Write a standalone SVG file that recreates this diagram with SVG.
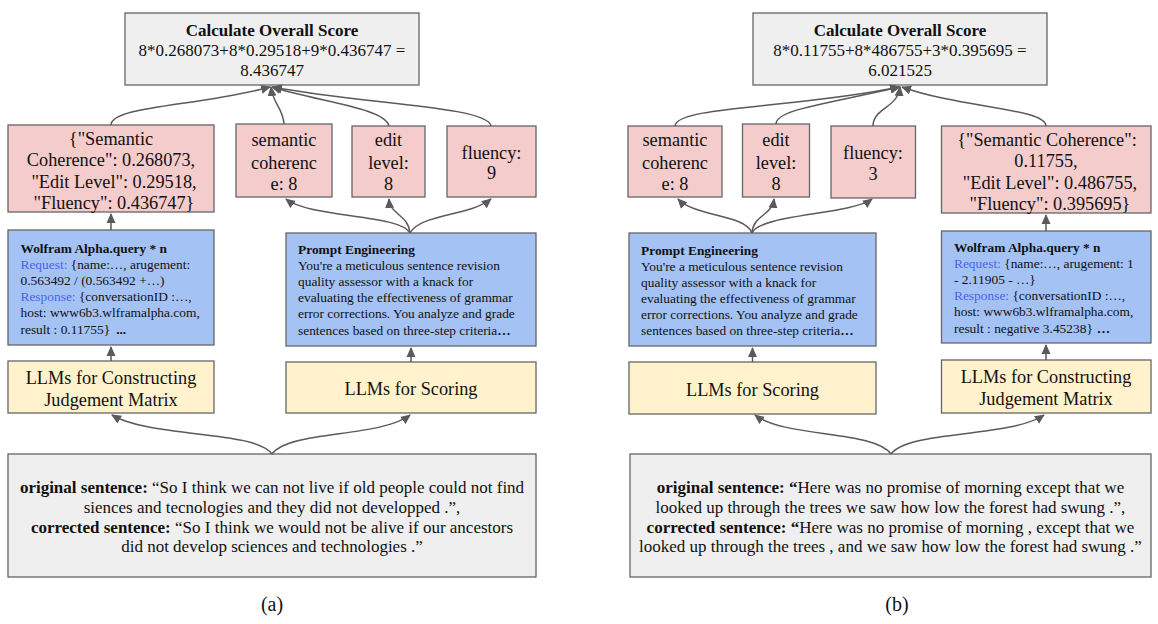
<svg xmlns="http://www.w3.org/2000/svg" width="1158" height="624" viewBox="0 0 1158 624">
<style>
text{font-family:"Liberation Serif","Times New Roman",serif;fill:#111}
.box{stroke:#666;stroke-width:1.3}
.gray{fill:#efefef}
.pink{fill:#f4cccc}
.blue{fill:#a4c2f4}
.yel{fill:#fff2cc}
.t17{font-size:17px}
.t18{font-size:18.3px}
.t13{font-size:13.4px}
.b{font-weight:bold}
.req{fill:#4f63ec}
.c{text-anchor:middle}
.cap{font-size:20px}
.con{fill:none;stroke:#5a5a5a;stroke-width:1.5;marker-end:url(#ah)}
</style>
<defs>
<marker id="ah" viewBox="0 0 10 10" refX="9" refY="5" markerWidth="10" markerHeight="10" markerUnits="userSpaceOnUse" orient="auto">
<path d="M0,0.5 L10,5 L0,9.5 z" fill="#5a5a5a"/>
</marker>
</defs>
<rect width="1158" height="624" fill="#fff"/>

<!-- ===== Panel (a) ===== -->
<g id="a-score">
<rect class="box gray" x="125" y="13" width="294" height="72"/>
<text class="t17 c b" x="272" y="36">Calculate Overall Score</text>
<text class="t17 c" x="272" y="56">8*0.268073+8*0.29518+9*0.436747 =</text>
<text class="t17 c" x="272" y="76">8.436747</text>
</g>
<g id="a-matrix-result">
<rect class="box pink" x="8" y="125" width="206" height="87"/>
<text class="t18 c" x="111" y="144.5">{"Semantic</text>
<text class="t18 c" x="111" y="166">Coherence": 0.268073,</text>
<text class="t18 c" x="114" y="187.5">"Edit Level": 0.29518,</text>
<text class="t18 c" x="114" y="208.5">"Fluency": 0.436747}</text>
</g>
<g id="a-sem">
<rect class="box pink" x="236" y="124" width="96" height="73"/>
<text class="t18 c" x="284" y="146">semantic</text>
<text class="t18 c" x="284" y="168.5">coherenc</text>
<text class="t18 c" x="284" y="190">e: 8</text>
</g>
<g id="a-edit">
<rect class="box pink" x="352" y="126" width="73" height="71"/>
<text class="t18 c" x="388.5" y="146">edit</text>
<text class="t18 c" x="388.5" y="168.5">level:</text>
<text class="t18 c" x="388.5" y="190">8</text>
</g>
<g id="a-flu">
<rect class="box pink" x="447" y="126" width="89" height="71"/>
<text class="t18 c" x="491.5" y="158.5">fluency:</text>
<text class="t18 c" x="491.5" y="179">9</text>
</g>
<g id="a-wolfram">
<rect class="box blue" x="8" y="230" width="206" height="115"/>
<text class="t13 b" x="20.5" y="253">Wolfram Alpha.query * n</text>
<text class="t13" x="20.5" y="269.1"><tspan class="req">Request:</tspan> {name:…, arugement:</text>
<text class="t13" x="20.5" y="285.2">0.563492 / (0.563492 +…)</text>
<text class="t13" x="20.5" y="301.3"><tspan class="req">Response:</tspan> {conversationID :…,</text>
<text class="t13" x="20.5" y="317.4">host: www6b3.wlframalpha.com,</text>
<text class="t13" x="20.5" y="333.5">result : 0.11755}<tspan class="b" dx="6">...</tspan></text>
</g>
<g id="a-prompt">
<rect class="box blue" x="286" y="233" width="250" height="113"/>
<text class="t13 b" x="298" y="254">Prompt Engineering</text>
<text class="t13" x="298" y="270.1">You're a meticulous sentence revision</text>
<text class="t13" x="298" y="286.2">quality assessor with a knack for</text>
<text class="t13" x="298" y="302.3">evaluating the effectiveness of grammar</text>
<text class="t13" x="298" y="318.4">error corrections. You analyze and grade</text>
<text class="t13" x="298" y="334.5">sentences based on three-step criteria<tspan class="b">…</tspan></text>
</g>
<g id="a-llm-matrix">
<rect class="box yel" x="8" y="361" width="206" height="52"/>
<text class="t18 c" x="111" y="383.5">LLMs for Constructing</text>
<text class="t18 c" x="111" y="405.5">Judgement Matrix</text>
</g>
<g id="a-llm-score">
<rect class="box yel" x="286" y="362" width="250" height="51"/>
<text class="t18 c" x="411" y="394.5">LLMs for Scoring</text>
</g>
<g id="a-input">
<rect class="box gray" x="8" y="454" width="528" height="123"/>
<text class="t17 c" x="272" y="492.5"><tspan class="b">original sentence:</tspan> “So I think we can not live if old people could not find</text>
<text class="t17 c" x="272" y="512.5">siences and tecnologies and they did not developped .”,</text>
<text class="t17 c" x="272" y="532.5"><tspan class="b">corrected sentence:</tspan> “So I think we would not be alive if our ancestors</text>
<text class="t17 c" x="272" y="552">did not develop sciences and technologies .”</text>
</g>
<text class="cap c" x="272" y="611">(a)</text>

<!-- ===== Panel (b) ===== -->
<g id="b-score">
<rect class="box gray" x="753" y="13" width="294" height="72"/>
<text class="t17 c b" x="900" y="36">Calculate Overall Score</text>
<text class="t17 c" x="900" y="56">8*0.11755+8*486755+3*0.395695 =</text>
<text class="t17 c" x="900" y="76">6.021525</text>
</g>
<g id="b-sem">
<rect class="box pink" x="628" y="126" width="94" height="71"/>
<text class="t18 c" x="675" y="146">semantic</text>
<text class="t18 c" x="675" y="168.5">coherenc</text>
<text class="t18 c" x="675" y="190">e: 8</text>
</g>
<g id="b-edit">
<rect class="box pink" x="742.5" y="124" width="67" height="73"/>
<text class="t18 c" x="776" y="146">edit</text>
<text class="t18 c" x="776" y="168.5">level:</text>
<text class="t18 c" x="776" y="190">8</text>
</g>
<g id="b-flu">
<rect class="box pink" x="831" y="126" width="84.5" height="72"/>
<text class="t18 c" x="873" y="159">fluency:</text>
<text class="t18 c" x="873" y="180">3</text>
</g>
<g id="b-matrix-result">
<rect class="box pink" x="941.5" y="126" width="209.5" height="87"/>
<text class="t18 c" x="1047" y="145.5">{"Semantic Coherence":</text>
<text class="t18 c" x="1046" y="167">0.11755,</text>
<text class="t18 c" x="1050" y="188.5">"Edit Level": 0.486755,</text>
<text class="t18 c" x="1050" y="209.5">"Fluency": 0.395695}</text>
</g>
<g id="b-prompt">
<rect class="box blue" x="629" y="233" width="247" height="113"/>
<text class="t13 b" x="641" y="254.5">Prompt Engineering</text>
<text class="t13" x="641" y="270.6">You're a meticulous sentence revision</text>
<text class="t13" x="641" y="286.7">quality assessor with a knack for</text>
<text class="t13" x="641" y="302.8">evaluating the effectiveness of grammar</text>
<text class="t13" x="641" y="318.9">error corrections. You analyze and grade</text>
<text class="t13" x="641" y="335">sentences based on three-step criteria<tspan class="b">…</tspan></text>
</g>
<g id="b-wolfram">
<rect class="box blue" x="941.5" y="231" width="209.5" height="112"/>
<text class="t13 b" x="954" y="252">Wolfram Alpha.query * n</text>
<text class="t13" x="954" y="268.1"><tspan class="req">Request:</tspan> {name:…, arugement: 1</text>
<text class="t13" x="954" y="284.2">- 2.11905 - …}</text>
<text class="t13" x="954" y="300.3"><tspan class="req">Response:</tspan> {conversationID :…,</text>
<text class="t13" x="954" y="316.4">host: www6b3.wlframalpha.com,</text>
<text class="t13" x="954" y="332.5">result : negative 3.45238}<tspan class="b" dx="4">…</tspan></text>
</g>
<g id="b-llm-score">
<rect class="box yel" x="629" y="362" width="247" height="52"/>
<text class="t18 c" x="752.5" y="396">LLMs for Scoring</text>
</g>
<g id="b-llm-matrix">
<rect class="box yel" x="941.5" y="360" width="209.5" height="53"/>
<text class="t18 c" x="1046" y="382.5">LLMs for Constructing</text>
<text class="t18 c" x="1046" y="404.5">Judgement Matrix</text>
</g>
<g id="b-input">
<rect class="box gray" x="630" y="454" width="521" height="123"/>
<text class="t17 c" x="890.5" y="492.5"><tspan class="b">original sentence: “</tspan>Here was no promise of morning except that we</text>
<text class="t17 c" x="890.5" y="512.5">looked up through the trees we saw how low the forest had swung .”,</text>
<text class="t17 c" x="890.5" y="532.5"><tspan class="b">corrected sentence: “</tspan>Here was no promise of morning , except that we</text>
<text class="t17 c" x="890.5" y="552">looked up through the trees , and we saw how low the forest had swung .”</text>
</g>
<text class="cap c" x="897" y="611">(b)</text>

<!-- ===== Connectors ===== -->
<g id="connectors">
<!-- (a) -->
<path class="con" d="M272,454 C255,430 150,438 112,415"/>
<path class="con" d="M272,454 C289,430 380,438 410,415"/>
<path class="con" d="M111,361 L111,347"/>
<path class="con" d="M411,362 L411,348"/>
<path class="con" d="M111,230 L111,214"/>
<path class="con" d="M410,233 C400,214 310,218 286,199"/>
<path class="con" d="M410,233 C408,214 390,215 389,199"/>
<path class="con" d="M410,233 C420,214 470,216 491,199"/>
<path class="con" d="M111,125 C111,106 200,106 270,87"/>
<path class="con" d="M284,124 C283,108 273,104 271,87"/>
<path class="con" d="M389,126 C385,108 320,102 272,87"/>
<path class="con" d="M491,126 C488,106 360,104 273,87"/>
<!-- (b) -->
<path class="con" d="M891,454 C874,430 785,438 755,415"/>
<path class="con" d="M891,454 C908,430 1010,438 1044,415"/>
<path class="con" d="M752.5,362 L752.5,348"/>
<path class="con" d="M1046,360 L1046,345"/>
<path class="con" d="M1046,231 L1046,215"/>
<path class="con" d="M752,233 C745,214 695,217 678,199"/>
<path class="con" d="M752,233 C753,215 772,216 774,199"/>
<path class="con" d="M752,233 C760,214 850,215 872,199"/>
<path class="con" d="M675,126 C676,106 800,108 899,87"/>
<path class="con" d="M776,124 C776,110 820,105 900,87"/>
<path class="con" d="M873,126 C873,108 898,108 900,87"/>
<path class="con" d="M1046,126 C1045,108 960,108 902,87"/>
</g>
</svg>
